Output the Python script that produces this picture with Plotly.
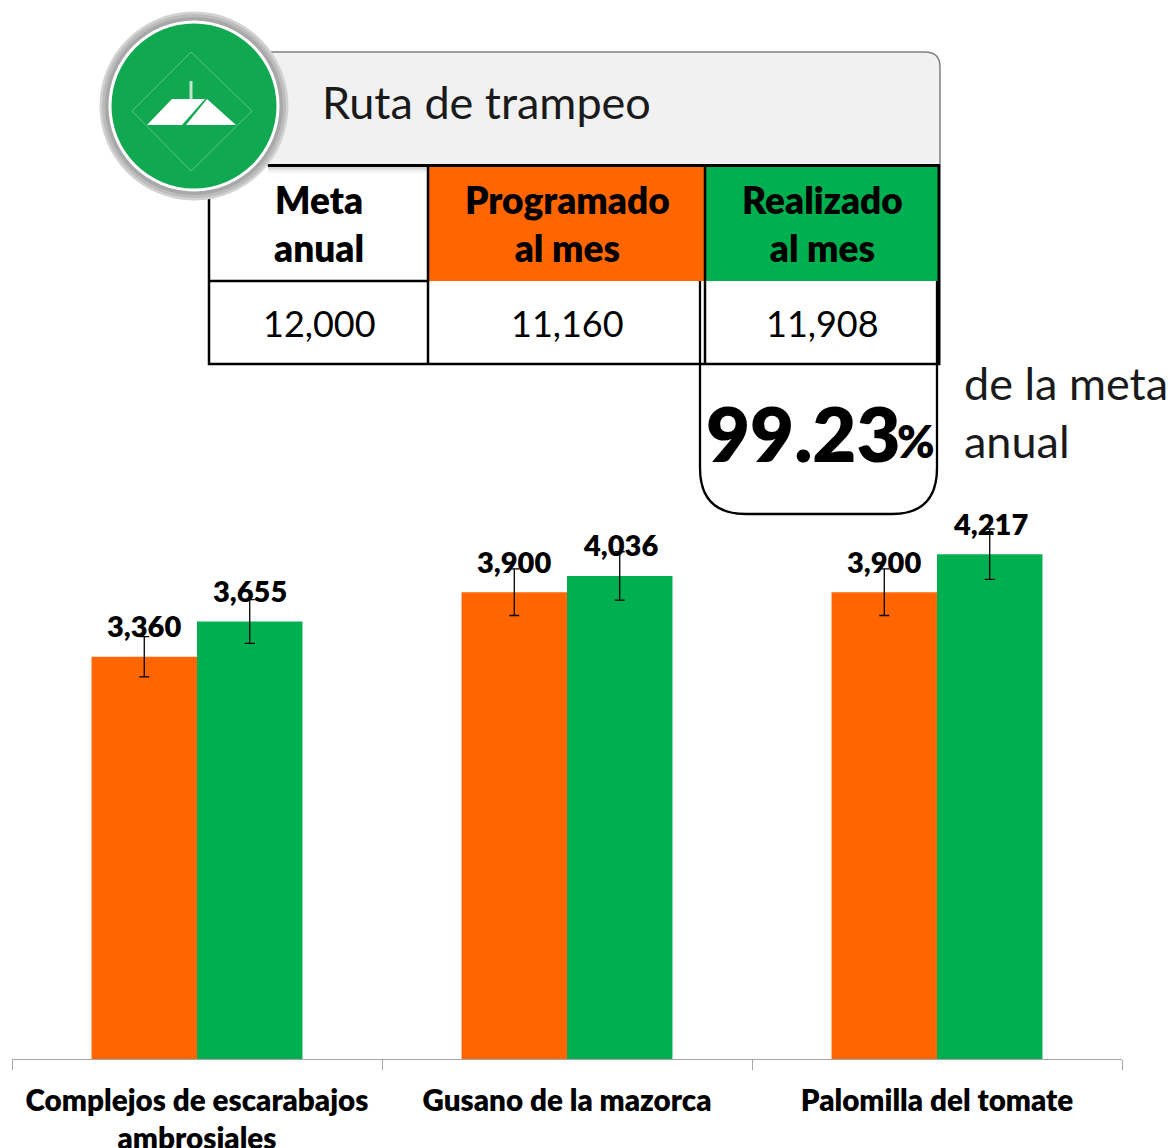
import plotly.graph_objects as go

categories = ["Complejos de escarabajos<br>ambrosiales", "Gusano de la mazorca", "Palomilla del tomate"]
programado = [3360, 3900, 3900]
realizado = [3655, 4036, 4217]
table_head = ["Meta<br>anual", "Programado<br>al mes", "Realizado<br>al mes"]
table_vals = ["12,000", "11,160", "11,908"]
title_text = "Ruta de trampeo"
pct_text = "99.23"
pct_note = ["de la meta", "anual"]

ORANGE = "#ff6600"
GREEN = "#00b050"
FONT = "Lato"
W, H = 1168, 1148
BASE = 1059
PX_PER_UNIT = 0.1197
HEAVY = 800


def X(p):
    return p / W


def Y(p):
    return 1 - p / H


fig = go.Figure()
for name, vals, col in [("Programado", programado, ORANGE), ("Realizado", realizado, GREEN)]:
    fig.add_trace(go.Bar(
        name=name, x=categories, y=vals, marker=dict(color=col, line=dict(width=0)),
        error_y=dict(type="percent", value=5, color="#000000", thickness=1.3, width=5),
    ))

shapes = []


def rect(x0, y0, x1, y1, fill=None, lc=None, lw=0):
    shapes.append(dict(type="rect", xref="paper", yref="paper", x0=X(x0), x1=X(x1), y0=Y(y0), y1=Y(y1),
                       fillcolor=fill or "rgba(0,0,0,0)", line=dict(color=lc or "rgba(0,0,0,0)", width=lw)))


def line(x0, y0, x1, y1, c="#000000", w=2.5):
    shapes.append(dict(type="line", xref="paper", yref="paper", x0=X(x0), x1=X(x1), y0=Y(y0), y1=Y(y1),
                       line=dict(color=c, width=w)))


def path(pts, fill=None, lc=None, lw=0, close=True):
    d = "M " + " L ".join(f"{X(a):.5f},{Y(b):.5f}" for a, b in pts) + (" Z" if close else "")
    shapes.append(dict(type="path", xref="paper", yref="paper", path=d,
                       fillcolor=fill or "rgba(0,0,0,0)", line=dict(color=lc or "rgba(0,0,0,0)", width=lw)))


def cpath(cmds, fill=None, lc=None, lw=0):
    parts = []
    for c in cmds:
        if c[0] in "ML":
            parts.append(f"{c[0]} {X(c[1]):.5f},{Y(c[2]):.5f}")
        elif c[0] == "Q":
            parts.append(f"Q {X(c[1]):.5f},{Y(c[2]):.5f} {X(c[3]):.5f},{Y(c[4]):.5f}")
        else:
            parts.append(c)
    shapes.append(dict(type="path", xref="paper", yref="paper", path=" ".join(parts),
                       fillcolor=fill or "rgba(0,0,0,0)", line=dict(color=lc or "rgba(0,0,0,0)", width=lw)))


def circle(cx, cy, r, fill):
    shapes.append(dict(type="circle", xref="paper", yref="paper", x0=X(cx - r), x1=X(cx + r), y0=Y(cy - r), y1=Y(cy + r),
                       fillcolor=fill, line=dict(width=0)))


# Banner: soft shadow, body, bottom rule
for i, c in enumerate(["#d8d8d8", "#e8e8e8", "#f5f5f5"]):
    line(268, 168 + i * 2, 940, 168 + i * 2, c, 2)
cpath([("M", 250, 52), ("L", 925, 52), ("Q", 940, 52, 940, 67), ("L", 940, 165), ("L", 250, 165), "Z"],
      fill="#f1f1f1", lc="#808080", lw=1.5)

# Table
rect(428, 166, 705, 281, fill=ORANGE)
rect(705, 166, 939, 281, fill=GREEN)
line(268, 165.5, 940, 165.5, "#000000", 3)
line(209, 165, 209, 365)
line(428, 165, 428, 365)
line(705, 165, 705, 365)
line(939, 165, 939, 365, "#000000", 3)
line(209, 281, 428, 281)
line(208, 364, 940, 364)

# Rounded callout
cpath([("M", 700, 281), ("L", 700, 468), ("Q", 700, 514, 746, 514), ("L", 892, 514),
       ("Q", 937, 514, 937, 468), ("L", 937, 281)], lc="#000000", lw=2.3)

# Badge
circle(194, 106, 94.5, "#d2d2d2")
circle(194, 106, 92, "#bcbcbc")
circle(194, 106, 89, "#a8a8a8")
circle(194, 106, 85.5, "#ffffff")
circle(194, 106, 82.5, "#10a851")
path([(132, 111), (191, 52), (252, 111), (191, 171)], lc="#5cc488", lw=1)
path([(147, 125), (172, 99), (205, 99), (182, 125)], fill="#ffffff")
path([(186, 125), (207, 99), (236, 125)], fill="#ffffff")
path([(189.5, 81), (192.5, 81), (192.5, 99), (189.5, 99)], fill="#bfe6cd")

anns = []


def txt(x, y, s, size, weight=400, anchor="center", color="#000000"):
    anns.append(dict(xref="paper", yref="paper", x=X(x), y=Y(y), text=s,
                     showarrow=False, xanchor=anchor, yanchor="middle", align="center",
                     font=dict(family=FONT, size=size, color=color, weight=weight)))


txt(320, 102, title_text, 45, anchor="left", color="#1a1a1a")
for cx, head, val in zip([319, 567, 822], table_head, table_vals):
    txt(cx, 223, head, 37, weight=HEAVY)
    txt(cx, 323, val, 36)
txt(704, 433, pct_text, 76, weight=HEAVY, anchor="left")
txt(895, 441, "%", 45, weight=HEAVY, anchor="left")
txt(962, 383, pct_note[0], 45, anchor="left", color="#1a1a1a")
txt(962, 441, pct_note[1], 45, anchor="left", color="#1a1a1a")

# Data labels
for vals, shift in [(programado, -53), (realizado, 53)]:
    for c, v in zip(categories, vals):
        anns.append(dict(xref="x", yref="y", x=c, y=v, text=f"{v:,}", showarrow=False,
                         xshift=shift, yshift=31, xanchor="center", yanchor="middle",
                         font=dict(family=FONT, size=29, color="#000000", weight=HEAVY)))

fig.update_layout(
    width=W, height=H, margin=dict(l=0, r=0, t=0, b=0, autoexpand=False),
    paper_bgcolor="#ffffff", plot_bgcolor="#ffffff", showlegend=False,
    barmode="group", bargap=0.43, bargroupgap=0,
    font=dict(family=FONT), shapes=shapes, annotations=anns,
    xaxis=dict(domain=[X(12), X(1122)], type="category", tickson="boundaries", ticks="outside", ticklen=10,
               automargin=False,
               tickcolor="#a6a6a6", tickwidth=1, showline=True, linecolor="#a6a6a6", linewidth=1,
               tickfont=dict(family=FONT, size=29.6, color="#000000", weight=HEAVY), ticklabelstandoff=15,
               tickvals=categories, ticktext=categories, showgrid=False),
    yaxis=dict(domain=[Y(BASE), 1], range=[0, BASE / PX_PER_UNIT], visible=False, automargin=False),
)

fig.write_html("out.html", config={"displayModeBar": False}, post_script="document.body.style.margin='0';")
